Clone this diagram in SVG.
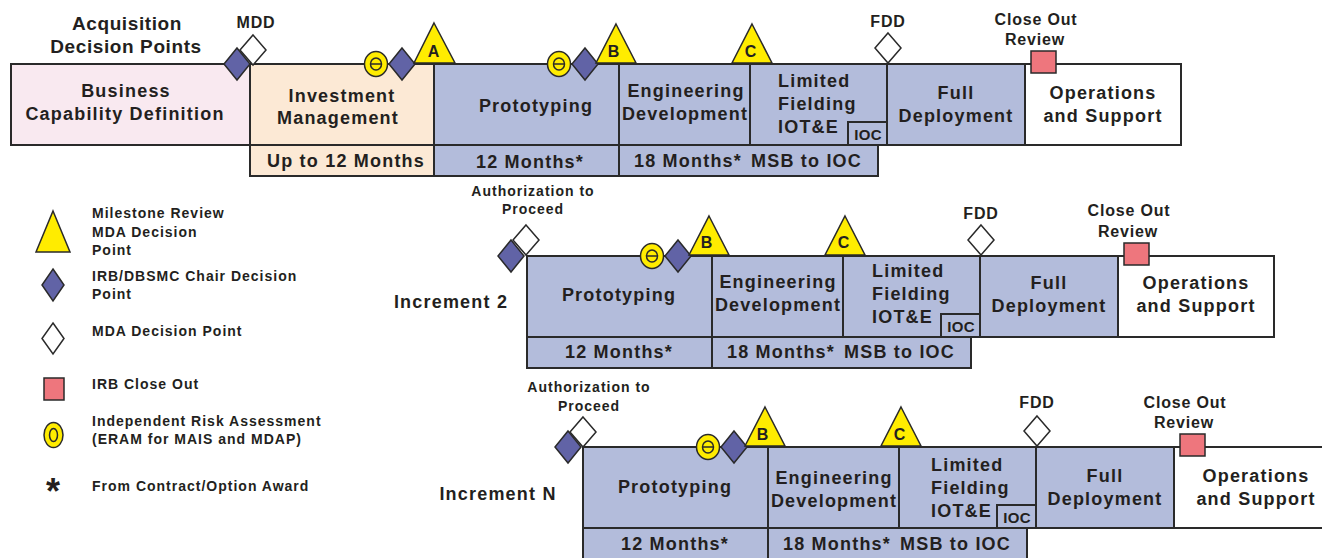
<svg xmlns="http://www.w3.org/2000/svg" xmlns:xlink="http://www.w3.org/1999/xlink" width="1322" height="558" viewBox="0 0 1322 558">
<style>
.box{stroke:#2a2a2a;stroke-width:2}
.pink{fill:#F9E9F0}.peach{fill:#FCE9D5}.blue{fill:#B3BCDB}.white{fill:#FFFFFF}
.t{font-family:"Liberation Sans",Arial,sans-serif;font-weight:bold;fill:#231F20;letter-spacing:1.2px}
.s18{font-size:18px}.s19{font-size:19px;letter-spacing:0.6px}.s16{font-size:16px;letter-spacing:0.8px}.s14{font-size:14px;letter-spacing:1px}.s15{font-size:15px;letter-spacing:0.3px}
.m{text-anchor:middle}
.tri{fill:#FFEC00;stroke:#2a2a2a;stroke-width:1.5}
.pd{fill:#6163A6;stroke:#2a2a2a;stroke-width:1.5}
.wd{fill:#FFFFFF;stroke:#2a2a2a;stroke-width:1.5}
.rs{fill:#EE767D;stroke:#2a2a2a;stroke-width:1.5}
.ring{fill:#FFEC00;stroke:#2a2a2a;stroke-width:1.5}
.ln{stroke:#2a2a2a;stroke-width:1.5;fill:none}
</style>
<defs>
<path id="dia" d="M0,-16 L13,0 L0,16 L-13,0Z"/>
<path id="diaw" d="M0,-15 L13,0 L0,15 L-13,0Z"/>
<g id="ringm">
<ellipse class="ring" cx="0" cy="0" rx="11.5" ry="12.5"/>
<ellipse class="ring" cx="0" cy="0" rx="5.5" ry="6"/>
<line class="ln" x1="-5.5" y1="0" x2="5.5" y2="0"/>
</g>
</defs>

<!-- Heading -->
<g id="heading">
<text class="t s19 m" x="127" y="30">Acquisition</text>
<text class="t s19 m" x="126" y="53">Decision Points</text>
</g>

<!-- Top row -->
<g id="row1">
<g id="r1-business"><rect class="box pink" x="11" y="64" width="239" height="81"/>
<text class="t s18 m" x="126" y="97">Business</text><text class="t s18 m" x="125" y="120">Capability Definition</text></g>
<g id="r1-investment"><rect class="box peach" x="250" y="64" width="184" height="81"/>
<text class="t s18 m" x="342" y="102">Investment</text><text class="t s18 m" x="338" y="124">Management</text></g>
<g id="r1-up12"><rect class="box peach" x="250" y="145" width="184" height="31"/>
<text class="t s18 m" x="346" y="167">Up to 12 Months</text></g>
<g id="r1-prototyping"><rect class="box blue" x="434" y="64" width="185" height="81"/>
<text class="t s18 m" x="536" y="112">Prototyping</text></g>
<g id="r1-m12"><rect class="box blue" x="434" y="145" width="185" height="31"/>
<text class="t s18 m" x="530" y="168">12 Months*</text></g>
<g id="r1-engineering"><rect class="box blue" x="619" y="64" width="131" height="81"/>
<text class="t s18 m" x="686" y="97">Engineering</text><text class="t s18 m" x="685" y="120">Development</text></g>
<g id="r1-m18"><rect class="box blue" x="619" y="145" width="259" height="31"/>
<text class="t s18 m" x="748" y="167">18 Months*<tspan dx="9">MSB to IOC</tspan></text></g>
<g id="r1-limited"><rect class="box blue" x="750" y="64" width="137" height="81"/>
<text class="t s18" x="778" y="87">Limited</text><text class="t s18" x="778" y="110">Fielding</text><text class="t s18" x="778" y="133">IOT&amp;E</text></g>
<g id="r1-ioc"><rect class="box blue" x="848" y="122" width="39" height="23"/>
<text class="t s15 m" x="868" y="140">IOC</text></g>
<g id="r1-full"><rect class="box blue" x="887" y="64" width="138" height="81"/>
<text class="t s18 m" x="956" y="99">Full</text><text class="t s18 m" x="956" y="122">Deployment</text></g>
<g id="r1-ops"><rect class="box white" x="1025" y="64" width="156" height="81"/>
<text class="t s18 m" x="1103" y="99">Operations</text><text class="t s18 m" x="1103" y="122">and Support</text></g>

<g id="r1-mdd"><text class="t s16 m" x="256" y="28">MDD</text>
<use href="#diaw" class="wd" x="253" y="50"/><use href="#dia" class="pd" x="237" y="64"/></g>
<g id="r1-ms-a"><use href="#ringm" x="376" y="64"/><use href="#dia" class="pd" x="402" y="64"/>
<polygon class="tri" points="434,23 455,63 414,63"/><text class="t s16 m" x="434" y="57">A</text></g>
<g id="r1-ms-b"><use href="#ringm" x="559" y="64"/><use href="#dia" class="pd" x="585" y="64"/>
<polygon class="tri" points="616,24 636,63 596,63"/><text class="t s16 m" x="614" y="57">B</text></g>
<g id="r1-ms-c"><polygon class="tri" points="752,24 772,63 732,63"/><text class="t s16 m" x="751" y="57">C</text></g>
<g id="r1-fdd"><text class="t s16 m" x="888" y="27">FDD</text><use href="#diaw" class="wd" x="888" y="48"/></g>
<g id="r1-closeout"><text class="t s16 m" x="1036" y="25">Close Out</text><text class="t s16 m" x="1035" y="45">Review</text>
<rect class="rs" x="1031" y="51" width="25" height="22"/></g>
</g>

<!-- Increment 2 -->
<text id="inc2-label" class="t s18 m" x="451" y="308">Increment 2</text>
<g id="row2" transform="translate(93,192)">
<g id="r2-prototyping"><rect class="box blue" x="434" y="64" width="185" height="81"/>
<text class="t s18 m" x="526" y="109">Prototyping</text></g>
<g id="r2-m12"><rect class="box blue" x="434" y="145" width="185" height="31"/>
<text class="t s18 m" x="526" y="166">12 Months*</text></g>
<g id="r2-engineering"><rect class="box blue" x="619" y="64" width="131" height="81"/>
<text class="t s18 m" x="685" y="96">Engineering</text><text class="t s18 m" x="685" y="119">Development</text></g>
<g id="r2-m18"><rect class="box blue" x="619" y="145" width="259" height="31"/>
<text class="t s18 m" x="748" y="166">18 Months*<tspan dx="9">MSB to IOC</tspan></text></g>
<g id="r2-limited"><rect class="box blue" x="750" y="64" width="137" height="81"/>
<text class="t s18" x="779" y="85">Limited</text><text class="t s18" x="779" y="108">Fielding</text><text class="t s18" x="779" y="131">IOT&amp;E</text></g>
<g id="r2-ioc"><rect class="box blue" x="848" y="122" width="39" height="23"/>
<text class="t s15 m" x="868" y="140">IOC</text></g>
<g id="r2-full"><rect class="box blue" x="887" y="64" width="138" height="81"/>
<text class="t s18 m" x="956" y="97">Full</text><text class="t s18 m" x="956" y="120">Deployment</text></g>
<g id="r2-ops"><rect class="box white" x="1025" y="64" width="156" height="81"/>
<text class="t s18 m" x="1103" y="97">Operations</text><text class="t s18 m" x="1103" y="120">and Support</text></g>
<g id="r2-atp"><text class="t s14 m" x="440" y="4">Authorization to</text><text class="t s14 m" x="440" y="22">Proceed</text>
<use href="#diaw" class="wd" x="433" y="48"/><use href="#dia" class="pd" x="418" y="64"/></g>
<g id="r2-ms-b"><use href="#ringm" x="559" y="64"/><use href="#dia" class="pd" x="585" y="64"/>
<polygon class="tri" points="616,24 636,63 596,63"/><text class="t s16 m" x="614" y="56">B</text></g>
<g id="r2-ms-c"><polygon class="tri" points="752,24 772,63 732,63"/><text class="t s16 m" x="751" y="56">C</text></g>
<g id="r2-fdd"><text class="t s16 m" x="888" y="27">FDD</text><use href="#diaw" class="wd" x="888" y="48"/></g>
<g id="r2-closeout"><text class="t s16 m" x="1036" y="24">Close Out</text><text class="t s16 m" x="1035" y="45">Review</text>
<rect class="rs" x="1031" y="51" width="25" height="22"/></g>
</g>

<!-- Increment N -->
<text id="incN-label" class="t s18 m" x="498" y="500">Increment N</text>
<g id="row3" transform="translate(149,383)">
<g id="r3-prototyping"><rect class="box blue" x="434" y="64" width="185" height="81"/>
<text class="t s18 m" x="526" y="110">Prototyping</text></g>
<g id="r3-m12"><rect class="box blue" x="434" y="145" width="185" height="31"/>
<text class="t s18 m" x="526" y="167">12 Months*</text></g>
<g id="r3-engineering"><rect class="box blue" x="619" y="64" width="131" height="81"/>
<text class="t s18 m" x="685" y="101">Engineering</text><text class="t s18 m" x="685" y="124">Development</text></g>
<g id="r3-m18"><rect class="box blue" x="619" y="145" width="259" height="31"/>
<text class="t s18 m" x="748" y="167">18 Months*<tspan dx="9">MSB to IOC</tspan></text></g>
<g id="r3-limited"><rect class="box blue" x="750" y="64" width="137" height="81"/>
<text class="t s18" x="782" y="88">Limited</text><text class="t s18" x="782" y="111">Fielding</text><text class="t s18" x="782" y="134">IOT&amp;E</text></g>
<g id="r3-ioc"><rect class="box blue" x="848" y="122" width="39" height="23"/>
<text class="t s15 m" x="868" y="140">IOC</text></g>
<g id="r3-full"><rect class="box blue" x="887" y="64" width="138" height="81"/>
<text class="t s18 m" x="956" y="99">Full</text><text class="t s18 m" x="956" y="122">Deployment</text></g>
<g id="r3-ops"><rect class="box white" x="1025" y="64" width="156" height="81"/>
<text class="t s18 m" x="1107" y="99">Operations</text><text class="t s18 m" x="1107" y="122">and Support</text></g>
<g id="r3-atp"><text class="t s14 m" x="440" y="9">Authorization to</text><text class="t s14 m" x="440" y="28">Proceed</text>
<use href="#diaw" class="wd" x="434" y="49"/><use href="#dia" class="pd" x="419" y="64"/></g>
<g id="r3-ms-b"><use href="#ringm" x="559" y="64"/><use href="#dia" class="pd" x="585" y="64"/>
<polygon class="tri" points="616,24 636,63 596,63"/><text class="t s16 m" x="614" y="57">B</text></g>
<g id="r3-ms-c"><polygon class="tri" points="752,24 772,63 732,63"/><text class="t s16 m" x="751" y="57">C</text></g>
<g id="r3-fdd"><text class="t s16 m" x="888" y="25">FDD</text><use href="#diaw" class="wd" x="888" y="48"/></g>
<g id="r3-closeout"><text class="t s16 m" x="1036" y="25">Close Out</text><text class="t s16 m" x="1035" y="45">Review</text>
<rect class="rs" x="1031" y="51" width="25" height="22"/></g>
</g>

<!-- Legend -->
<g id="legend">
<g id="lg-milestone"><polygon class="tri" points="53,211 70,252 36,252"/>
<text class="t s14" x="92" y="218">Milestone Review</text><text class="t s14" x="92" y="237">MDA Decision</text><text class="t s14" x="92" y="255">Point</text></g>
<g id="lg-irb"><path class="pd" d="M53,269 L64,285 L53,301 L42,285Z"/>
<text class="t s14" x="92" y="281">IRB/DBSMC Chair Decision</text><text class="t s14" x="92" y="299">Point</text></g>
<g id="lg-mda"><path class="wd" d="M53,323 L64,338.5 L53,354 L42,338.5Z"/>
<text class="t s14" x="92" y="336">MDA Decision Point</text></g>
<g id="lg-closeout"><rect class="rs" x="44" y="378" width="20" height="22"/>
<text class="t s14" x="92" y="389">IRB Close Out</text></g>
<g id="lg-risk"><ellipse class="ring" cx="53.5" cy="435" rx="9.5" ry="12.5"/><ellipse class="ring" cx="53.5" cy="435" rx="4" ry="6.5"/>
<text class="t s14" x="92" y="426">Independent Risk Assessment</text><text class="t s14" x="92" y="444">(ERAM for MAIS and MDAP)</text></g>
<g id="lg-award"><text class="t m" style="font-size:36px;letter-spacing:0" x="53" y="504">*</text>
<text class="t s14" x="92" y="491">From Contract/Option Award</text></g>
</g>
<g id="connectors"></g>
</svg>
